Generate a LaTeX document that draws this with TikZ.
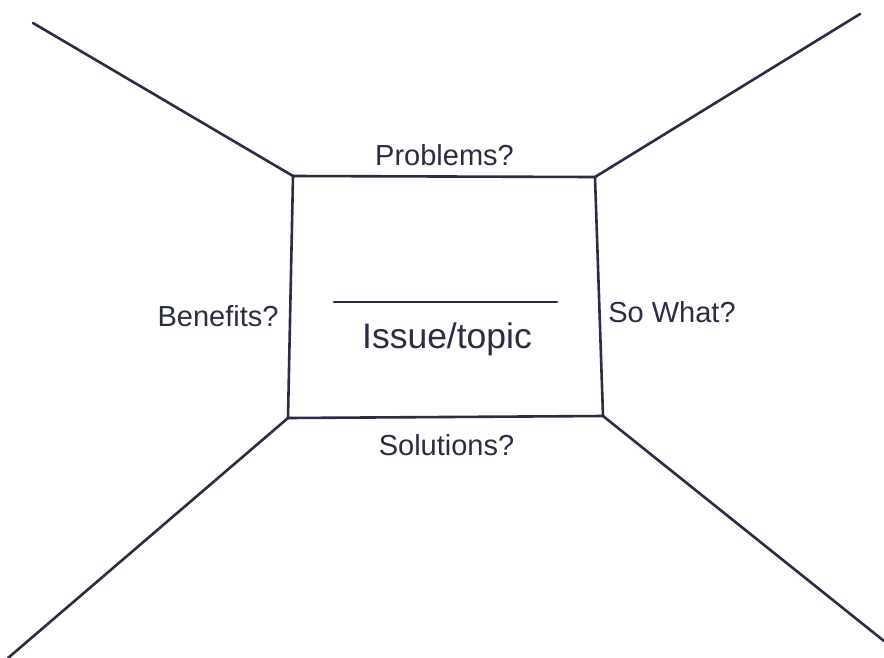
\documentclass[tikz,border=0pt]{standalone}
\usepackage{fontspec}
\setmainfont{Liberation Sans}
\definecolor{ink}{HTML}{2B2D45}
\tikzset{
  edge/.style={draw=ink, line width=2.6pt, line cap=round, line join=miter},
  lbl/.style={text=ink, font=\fontsize{29}{32}\selectfont, anchor=base, inner sep=0pt},
  big/.style={text=ink, font=\fontsize{35.5}{38}\selectfont, anchor=base, inner sep=0pt}
}
\begin{document}
\begin{tikzpicture}[x=1pt,y=-1pt]
\useasboundingbox[fill=white] (0,0) rectangle (884,657);
% box corners
\coordinate (tl) at (293,176);
\coordinate (tr) at (595,177);
\coordinate (br) at (603,416);
\coordinate (bl) at (288,418);
% outer ends
\coordinate (otl) at (33,23);
\coordinate (otr) at (860,14);
\coordinate (obl) at (8,658);
\coordinate (obr) at (884,641);
\draw[edge] (tl) -- (tr) -- (br) -- (bl) -- cycle;
\draw[edge] (otl) -- (tl);
\draw[edge] (otr) -- (tr);
\draw[edge] (obl) -- (bl);
\draw[edge] (obr) -- (br);
% rule above topic
\coordinate (ra) at (334,302);
\coordinate (rb) at (557,302);
\draw[edge, line width=2.8pt] (ra) -- (rb);
% labels
\node[lbl] (problems) at (444.5,165) {Problems?};
\node[lbl] (benefits) at (218,326) {Benefits?};
\node[lbl] (sowhat) at (672,322) {So What?};
\node[big] (topic) at (447,348) {Issue/topic};
\node[lbl] (solutions) at (446.5,455) {Solutions?};
\end{tikzpicture}
\end{document}
